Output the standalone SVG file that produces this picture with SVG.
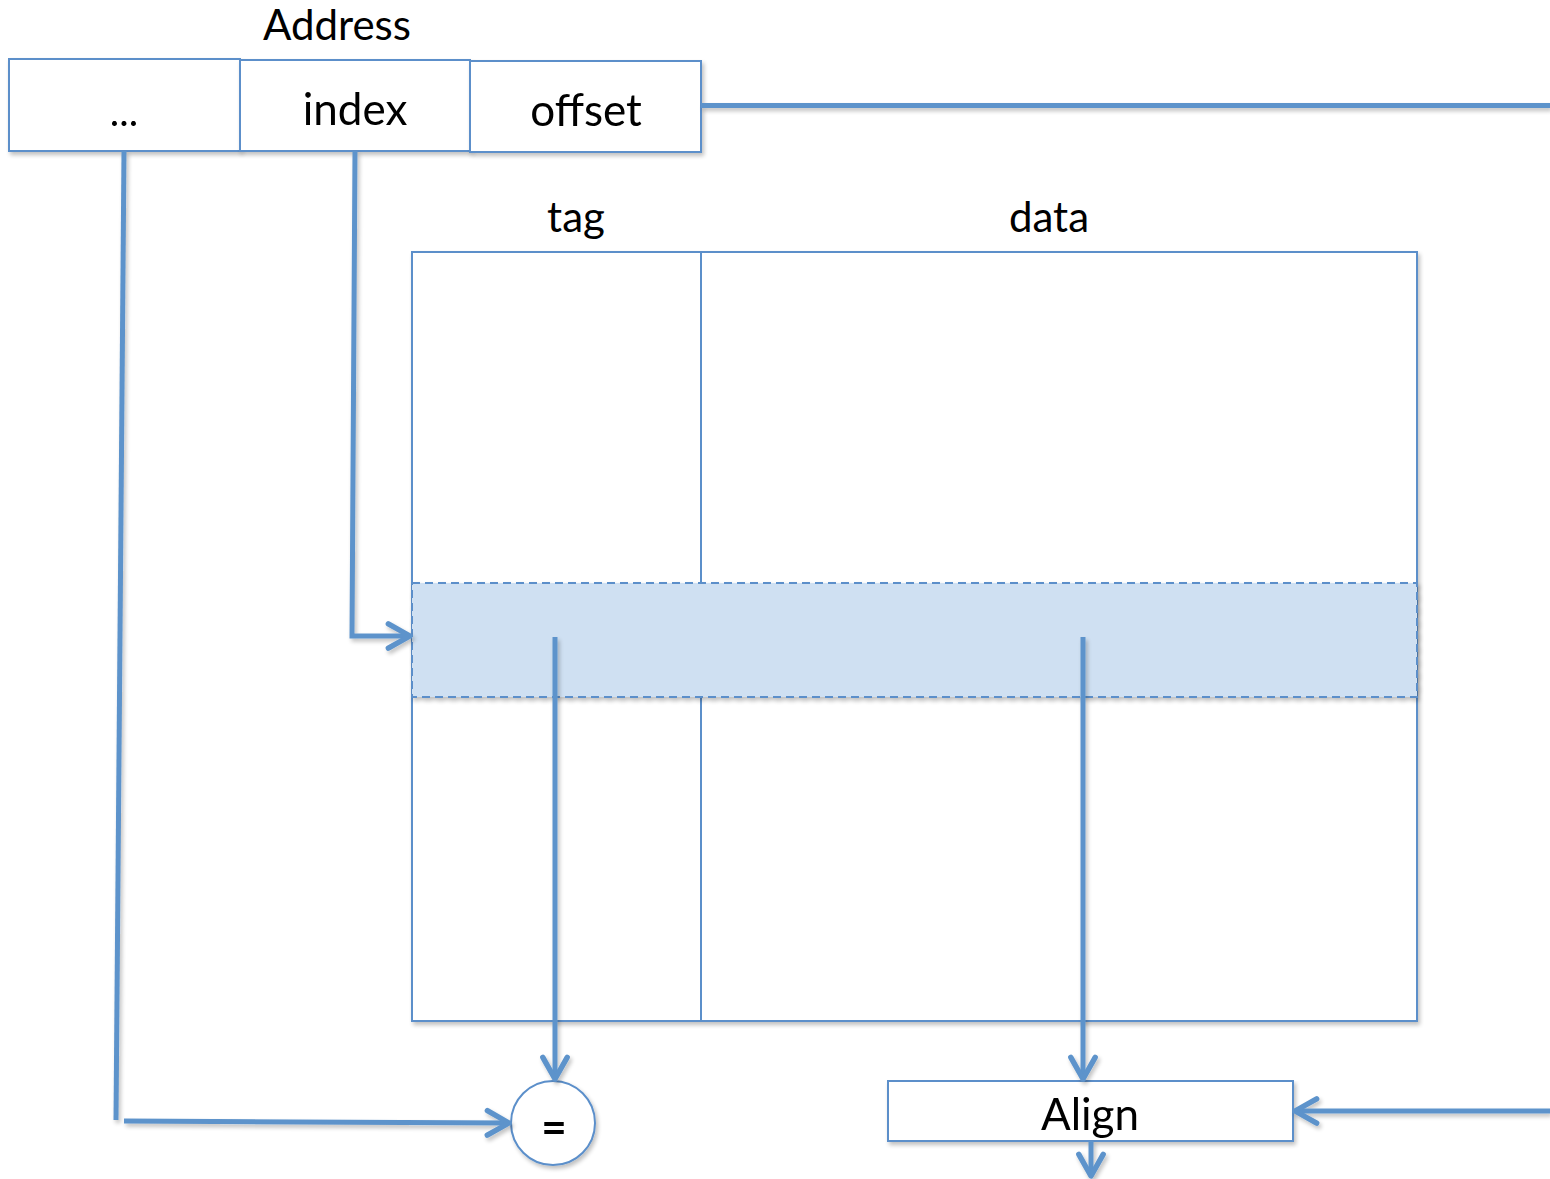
<svg xmlns="http://www.w3.org/2000/svg" width="1550" height="1179" viewBox="0 0 1550 1179">
  <style>
    .box { fill: #ffffff; stroke: #5b8fca; stroke-width: 2; }
    .wire { fill: none; stroke: #5d93cb; stroke-width: 5; stroke-linecap: butt; stroke-linejoin: miter; }
    .label { font-family: Lato, "Liberation Sans", sans-serif; fill: #000000; text-anchor: middle; }
  </style>
  <defs>
    <filter id="shadow" x="-5%" y="-5%" width="115%" height="120%">
      <feGaussianBlur in="SourceAlpha" stdDeviation="2"/>
      <feOffset dx="2" dy="3" result="b"/>
      <feComponentTransfer><feFuncA type="linear" slope="0.25"/></feComponentTransfer>
      <feMerge><feMergeNode/><feMergeNode in="SourceGraphic"/></feMerge>
    </filter>
    <marker id="arrow" viewBox="0 0 12 12" refX="10" refY="6" markerWidth="6.5" markerHeight="6.5" markerUnits="strokeWidth" orient="auto">
      <path d="M2,1.5 L10,6 L2,10.5" fill="none" stroke="#5d93cb" stroke-width="2" stroke-linecap="round" stroke-linejoin="round"/>
    </marker>
  </defs>

  <!-- address fields -->
  <text class="label" x="337" y="40" font-size="42">Address</text>
  <g id="addr-rest" filter="url(#shadow)">
    <rect class="box" x="9" y="59" width="231" height="92"/>
    <text class="label" x="124" y="126" font-size="40">...</text>
  </g>
  <g id="addr-index" filter="url(#shadow)">
    <rect class="box" x="240" y="60" width="230" height="91"/>
    <text class="label" x="355" y="125" font-size="44">index</text>
  </g>
  <g id="addr-offset" filter="url(#shadow)">
    <rect class="box" x="470" y="61" width="231" height="91"/>
    <text class="label" x="586" y="126" font-size="44">offset</text>
  </g>

  <!-- cache array -->
  <g id="cache">
    <text class="label" x="576" y="232" font-size="42">tag</text>
    <text class="label" x="1049" y="232" font-size="42">data</text>
    <g filter="url(#shadow)">
      <rect class="box" x="412" y="252" width="1005" height="769"/>
    </g>
    <line x1="701" y1="252" x2="701" y2="1021" stroke="#5b8fca" stroke-width="2"/>
    <g filter="url(#shadow)">
      <rect x="412" y="583" width="1005" height="114" fill="#cfe0f2" stroke="#5b8fca" stroke-width="2" stroke-dasharray="8,5"/>
    </g>
  </g>

  <!-- comparator -->
  <g id="compare" filter="url(#shadow)">
    <circle cx="553" cy="1123" r="42" fill="#ffffff" stroke="#5b8fca" stroke-width="2"/>
    <text class="label" x="554" y="1143" font-size="44" font-weight="bold">=</text>
  </g>

  <!-- align unit -->
  <g id="align" filter="url(#shadow)">
    <rect class="box" x="888" y="1081" width="405" height="60"/>
    <text class="label" x="1090" y="1130" font-size="44">Align</text>
  </g>

  <!-- connectors -->
  <g id="connectors" filter="url(#shadow)">
    <line class="wire" x1="701" y1="105.5" x2="1550" y2="105.5"/>
    <line class="wire" x1="124" y1="151" x2="116" y2="1120"/>
    <line class="wire" x1="124" y1="1121" x2="509" y2="1123" marker-end="url(#arrow)"/>
    <polyline class="wire" points="355,151 352,636 410,636" marker-end="url(#arrow)"/>
    <line class="wire" x1="555" y1="637" x2="555" y2="1079" marker-end="url(#arrow)"/>
    <line class="wire" x1="1083" y1="637" x2="1083" y2="1079" marker-end="url(#arrow)"/>
    <line class="wire" x1="1550" y1="1111" x2="1295" y2="1111" marker-end="url(#arrow)"/>
    <line class="wire" x1="1091" y1="1141" x2="1091" y2="1176" marker-end="url(#arrow)"/>
  </g>
</svg>
